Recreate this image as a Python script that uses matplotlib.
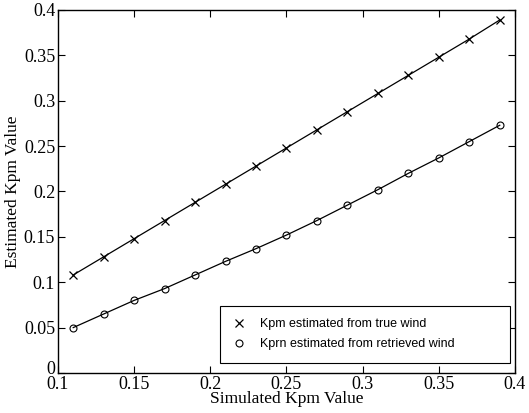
import matplotlib
matplotlib.use("Agg")
import matplotlib.pyplot as plt
import matplotlib.transforms as mtransforms

sim_kpm = [0.11, 0.13, 0.15, 0.17, 0.19, 0.21, 0.23, 0.25, 0.27, 0.29, 0.31, 0.33, 0.35, 0.37, 0.39]
est_true = [0.108, 0.128, 0.148, 0.168, 0.188, 0.208, 0.228, 0.248, 0.268, 0.288, 0.308, 0.328, 0.348, 0.368, 0.389]
est_retr = [0.050, 0.065, 0.080, 0.093, 0.108, 0.123, 0.137, 0.152, 0.168, 0.185, 0.202, 0.220, 0.237, 0.255, 0.273]
xticks = [0.1, 0.15, 0.2, 0.25, 0.3, 0.35, 0.4]
yticks = [0, 0.05, 0.1, 0.15, 0.2, 0.25, 0.3, 0.35, 0.4]
xtick_labels = ["0.1", "0.15", "0.2", "0.25", "0.3", "0.35", "0.4"]
ytick_labels = ["0", "0.05", "0.1", "0.15", "0.2", "0.25", "0.3", "0.35", "0.4"]

fig = plt.figure(figsize=(5.29, 4.13), dpi=100)
ax = fig.add_axes([0.1096, 0.0969, 0.8639, 0.8789])

ax.plot(sim_kpm, est_true, color="black", lw=0.9, marker="x", ms=5.5, mew=0.9,
        label="Kpm estimated from true wind")
ax.plot(sim_kpm, est_retr, color="black", lw=0.9, marker="o", ms=5, mew=0.8,
        mfc="none", label="Kprn estimated from retrieved wind")

ax.set_xlim(0.1, 0.4)
ax.set_ylim(0, 0.4)
ax.set_xticks(xticks)
ax.set_xticklabels(xtick_labels)
ax.set_yticks(yticks)
ax.set_yticklabels(ytick_labels)
serif = "Liberation Serif"
for lab in ax.get_xticklabels() + ax.get_yticklabels():
    lab.set_fontfamily(serif)
    lab.set_fontsize(13)
ax.tick_params(direction="in", top=True, right=True, length=5, width=0.8, pad=2)
for s in ax.spines.values():
    s.set_linewidth(1.0)

# nudge the "0" y tick label up slightly so it doesn't collide with "0.1"
zero_lab = ax.get_yticklabels()[0]
zero_lab.set_transform(zero_lab.get_transform() +
                       mtransforms.ScaledTranslation(0, 4 / 72, fig.dpi_scale_trans))

ax.set_xlabel("Simulated Kpm Value", fontfamily=serif, fontsize=12.5, labelpad=-1)
ax.set_ylabel("Estimated Kpm Value", fontfamily=serif, fontsize=12.5, labelpad=2)

leg = ax.legend(loc="lower left", bbox_to_anchor=(0.3545, 0.0275, 0.6346, 0.15),
                mode="expand", prop={"family": "Liberation Sans", "size": 9},
                frameon=True, fancybox=False, edgecolor="black", framealpha=1,
                borderaxespad=0.0, handlelength=1.0, handletextpad=1.2,
                borderpad=1.0, labelspacing=0.65)
leg.get_frame().set_linewidth(0.8)
for h in leg.legend_handles:
    h.set_linestyle("none")

fig.savefig("out.png", dpi=100)
